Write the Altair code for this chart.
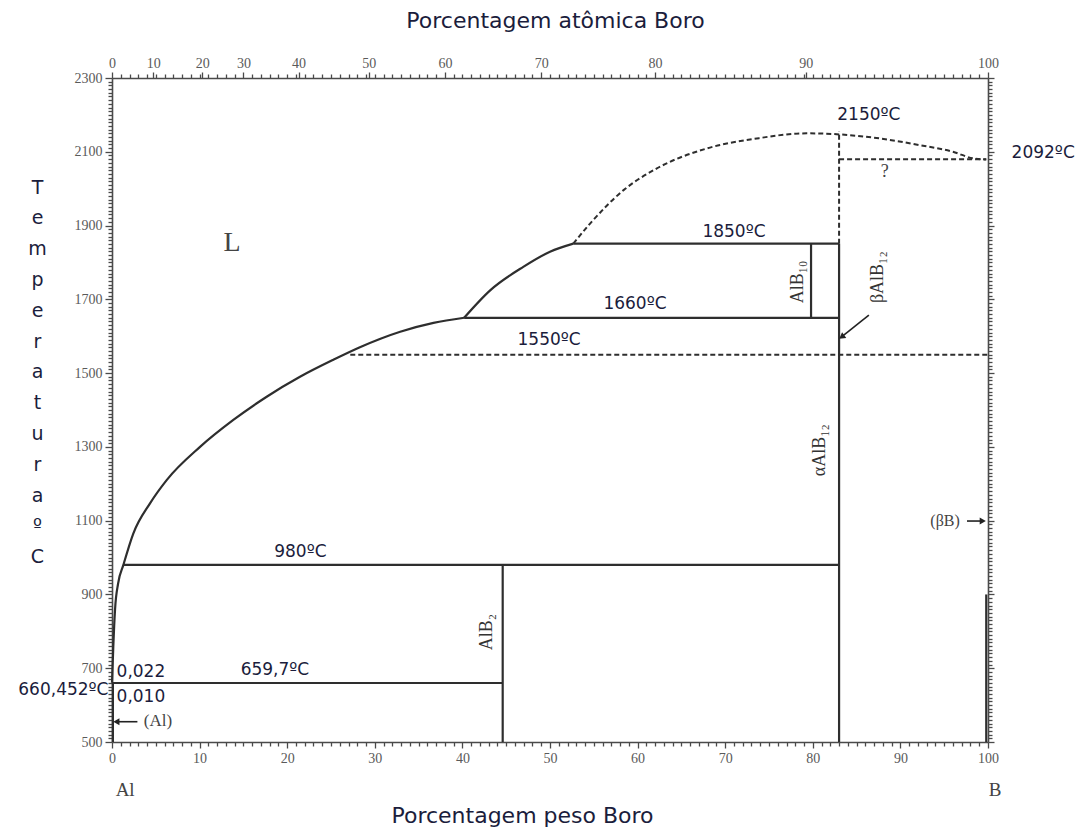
import altair as alt
import pandas as pd

# ---------------- data ----------------
# liquidus, Al side (wt% B, temperature C)
LIQ_AL_X = [0, 0.15, 0.35, 0.7, 1.3, 2.43, 4.34, 6.24, 10.05, 13.85, 17.66, 21.46, 25.26, 28.3, 32.9, 36.7, 40.2]
LIQ_AL_T = [660.452, 760, 860, 930, 980, 1065, 1147, 1210, 1300, 1373, 1436, 1490, 1536, 1570, 1612, 1636, 1650]
# liquidus between 1660 and 1850 isotherms
LIQ_MID_X = [40.2, 43.2, 46.95, 50.0, 52.66]
LIQ_MID_T = [1650, 1725, 1788, 1829, 1851]
# dashed liquidus above 1850
LIQ_DASH_X = [52.66, 54.6, 58.4, 62.2, 67.9, 73.6, 79.3, 83.1, 87.7, 92.2, 96.0, 98.3, 99.8]
LIQ_DASH_T = [1851, 1906, 1996, 2055, 2109, 2136, 2150, 2147, 2136, 2118, 2100, 2082, 2079]

# solid straight lines: (x list, T list)
ISO_1850 = ([52.66, 83.0], [1851, 1851])
ISO_1660 = ([40.2, 83.0], [1650, 1650])
ALB10_V = ([79.8, 79.8], [1650, 1851])
ALB12_V = ([83.0, 83.0], [500, 1851])
ISO_980 = ([1.3, 83.0], [980, 980])
ISO_660 = ([0, 44.6], [660, 660])
ALB2_V = ([44.6, 44.6], [500, 980])
B_SIDE = ([99.8, 99.8], [500, 900])
AL_SIDE = ([0.1, 0.1], [500, 660])
# dashed straight lines
DASH_V83 = ([83.0, 83.0], [1851, 2155])
DASH_2092 = ([83.0, 99.8], [2080, 2080])
DASH_1550 = ([27.2, 100.0], [1550, 1550])
# arrow shafts
ARROW_BETA = ([86.4, 83.5], [1657, 1602])
ARROW_AL = ([2.9, 0.7], [555, 555])
ARROW_BB = ([97.6, 99.2], [1099, 1099])
# arrow heads
HEAD_X = [83.3, 0.5, 99.4]
HEAD_T = [1598, 555, 1099]
HEAD_ANG = [234, 270, 90]

# temperature annotations (sans)
ANN_TEXT = ["2150ºC", "2092ºC", "1850ºC", "1660ºC", "1550ºC", "980ºC", "659,7ºC", "0,022", "0,010"]
ANN_X = [86.4, 106.3, 71.0, 59.7, 49.9, 21.5, 18.6, 3.3, 3.3]
ANN_T = [2199, 2096, 1883, 1687, 1589, 1016, 695, 690, 622]
# left side annotation (right aligned)
AL_MELT_TEXT = ["660,452ºC"]
AL_MELT_X = [-0.4]
AL_MELT_T = [641]

# phase labels rotated (serif)
ROT_TEXT = ["AlB₁₀", "βAlB₁₂", "αAlB₁₂", "AlB₂"]
ROT_X = [78.3, 87.4, 80.8, 42.8]
ROT_T = [1747, 1760, 1291, 798]
# phase labels horizontal (serif)
HOR_TEXT = ["L", "?", "(βB)", "(Al)", "Al", "B"]
HOR_X = [13.7, 88.2, 95.1, 5.25, 1.5, 100.8]
HOR_T = [1852, 2045, 1099, 557, 370, 370]
HOR_SIZE = [28, 18, 16, 17, 19, 19]

# top axis: atomic % B labels at their wt% B positions
TOP_POS = [0, 4.7, 10.3, 15.0, 21.3, 29.3, 38.0, 49.0, 62.0, 79.2, 100]
TOP_LAB = ["0", "10", "20", "30", "40", "50", "60", "70", "80", "90", "100"]

Y_TITLE = ["T", "e", "m", "p", "e", "r", "a", "t", "u", "r", "a", "º", "C"]

# ---------------- tables ----------------
def seg_frame(segments):
    rows = []
    for sid, (xs, ts) in enumerate(segments):
        for i, (x, t) in enumerate(zip(xs, ts)):
            rows.append({"seg": sid, "i": i, "x": x, "T": t})
    return pd.DataFrame(rows)

curves = seg_frame([(LIQ_AL_X, LIQ_AL_T), (LIQ_MID_X, LIQ_MID_T)])
solid = seg_frame([
    ISO_1850, ISO_1660, ALB10_V, ALB12_V, ISO_980, ISO_660, ALB2_V, B_SIDE, AL_SIDE,
])
dash_curve = seg_frame([(LIQ_DASH_X, LIQ_DASH_T)])
dashed = seg_frame([DASH_V83, DASH_2092, DASH_1550])
arrows = seg_frame([ARROW_BETA, ARROW_AL, ARROW_BB])
heads = pd.DataFrame({"x": HEAD_X, "T": HEAD_T, "ang": HEAD_ANG})
ann = pd.DataFrame({"txt": ANN_TEXT, "x": ANN_X, "T": ANN_T})
almelt = pd.DataFrame({"txt": AL_MELT_TEXT, "x": AL_MELT_X, "T": AL_MELT_T})
rot = pd.DataFrame({"txt": ROT_TEXT, "x": ROT_X, "T": ROT_T})
hor = pd.DataFrame({"txt": HOR_TEXT, "x": HOR_X, "T": HOR_T, "s": HOR_SIZE})

# ---------------- scales / axes ----------------
XS = alt.Scale(domain=[0, 100], nice=False, zero=False)
YS = alt.Scale(domain=[500, 2300], nice=False, zero=False)

AXC = "#4a4a4a"
NAVY = "#1b1d3c"
SANS = "DejaVu Sans"
SERIF = "Liberation Serif"
LINE = "#2e2e2e"

x_vals = list(range(0, 101))
y_vals = list(range(500, 2301, 10))
top_minor = [v for v in range(1, 100) if v not in TOP_POS]
top_vals = TOP_POS + top_minor
pos_js = "[" + ",".join(str(v) for v in TOP_POS) + "]"
lab_js = "[" + ",".join("'" + s + "'" for s in TOP_LAB) + "]"

common_axis = dict(
    domainColor=AXC, domainWidth=1.6, tickColor=AXC, tickWidth=1.3,
    labelColor="#5a5a5a", labelFont=SERIF, labelFontSize=14,
    labelOverlap=False, labelFlush=False, labelBound=False, grid=False,
)

x_bottom = alt.Axis(
    orient="bottom", values=x_vals,
    labelExpr="datum.value % 10 === 0 ? datum.label : ''",
    tickSize={"condition": {"test": "datum.value % 10 === 0", "value": 6}, "value": 4},
    title="Porcentagem peso Boro", titleFont=SANS, titleFontSize=22, titleFontWeight="normal",
    titleColor=NAVY, titleX=410, titleY=73, titleBaseline="middle", titleAnchor="middle",
    labelPadding=3, **common_axis,
)
y_left = alt.Axis(
    orient="left", values=y_vals,
    labelExpr="(datum.value - 500) % 200 === 0 ? datum.label : ''",
    format="d",
    tickSize={"condition": {"test": "(datum.value - 500) % 200 === 0", "value": 7}, "value": 4},
    title=Y_TITLE, titleAngle=0, titleX=-75, titleY=100, titleBaseline="top",
    titleAlign="center", titleLineHeight=30.8, titleFont=SANS, titleFontSize=19,
    titleFontWeight="normal", titleColor=NAVY, labelPadding=3, **common_axis,
)
x_top = alt.Axis(
    orient="top", values=top_vals,
    labelExpr="indexof(" + pos_js + ", datum.value) >= 0 ? " + lab_js + "[indexof(" + pos_js + ", datum.value)] : ''",
    tickSize={"condition": {"test": "indexof(" + pos_js + ", datum.value) >= 0", "value": 6}, "value": 4},
    title="Porcentagem atômica Boro", titleFont=SANS, titleFontSize=22, titleFontWeight="normal",
    titleColor=NAVY, titleX=443, titleY=-58, titleBaseline="middle", titleAnchor="middle",
    labelPadding=2, **common_axis,
)
y_right = alt.Axis(
    orient="right", values=y_vals, labels=False,
    tickSize={"condition": {"test": "(datum.value - 500) % 200 === 0", "value": 6}, "value": 4},
    title=None, **{k: v for k, v in common_axis.items() if not k.startswith("label")},
)

def enc(chart, **kw):
    return chart.encode(
        x=alt.X("x:Q", scale=XS, axis=None), y=alt.Y("T:Q", scale=YS, axis=None), **kw
    )

curve_layer = alt.Chart(curves).mark_line(color=LINE, strokeWidth=2.2, interpolate="monotone").encode(
    x=alt.X("x:Q", scale=XS, axis=x_bottom),
    y=alt.Y("T:Q", scale=YS, axis=y_left),
    detail="seg:N", order="i:Q",
)
frame_layer = alt.Chart(solid).mark_line(opacity=0).encode(
    x=alt.X("x:Q", scale=XS, axis=x_top),
    y=alt.Y("T:Q", scale=YS, axis=y_right),
    detail="seg:N", order="i:Q",
)
solid_layer = enc(alt.Chart(solid).mark_line(color=LINE, strokeWidth=2.2), detail="seg:N", order="i:Q")
dash_curve_layer = enc(
    alt.Chart(dash_curve).mark_line(color=LINE, strokeWidth=2, strokeDash=[5, 3], interpolate="monotone"),
    detail="seg:N", order="i:Q",
)
dashed_layer = enc(alt.Chart(dashed).mark_line(color=LINE, strokeWidth=2, strokeDash=[5, 3]), detail="seg:N", order="i:Q")
arrow_layer = enc(alt.Chart(arrows).mark_line(color="#222222", strokeWidth=1.6), detail="seg:N", order="i:Q")
head_layer = enc(
    alt.Chart(heads).mark_point(shape="triangle-up", filled=True, color="#222222", size=50, opacity=1),
    angle=alt.Angle("ang:Q", scale=None),
)
ann_layer = enc(
    alt.Chart(ann).mark_text(font=SANS, fontSize=17, color=NAVY, align="center", baseline="middle"),
    text="txt:N",
)
almelt_layer = enc(
    alt.Chart(almelt).mark_text(font=SANS, fontSize=17, color=NAVY, align="right", baseline="middle"),
    text="txt:N",
)
rot_layer = enc(
    alt.Chart(rot).mark_text(font=SERIF, fontSize=18, color="#333333", align="center", baseline="middle", angle=270),
    text="txt:N",
)
hor_layer = enc(
    alt.Chart(hor).mark_text(font=SERIF, color="#444444", align="center", baseline="middle"),
    text="txt:N", size=alt.Size("s:Q", scale=None, legend=None),
)

chart = alt.layer(
    curve_layer, frame_layer, solid_layer, dash_curve_layer, dashed_layer, arrow_layer, head_layer,
    ann_layer, almelt_layer, rot_layer, hor_layer,
).resolve_axis(x="independent", y="independent").properties(
    width=876, height=664,
    padding={"left": 112, "top": 78, "right": 99, "bottom": 88},
    autosize=alt.AutoSizeParams(type="none"),
    background="white",
).configure_view(stroke=None)

chart.save("out.html", embed_options={"renderer": "svg", "actions": False})
